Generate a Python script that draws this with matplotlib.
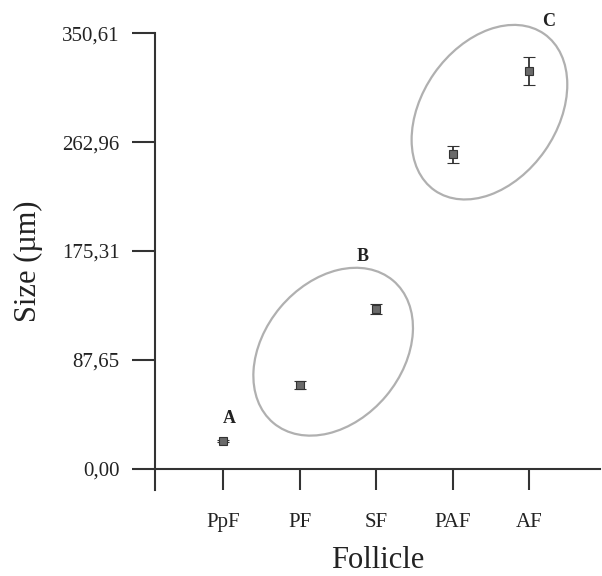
import matplotlib.pyplot as plt
import matplotlib.transforms as mtransforms
from matplotlib.patches import Ellipse

# data
follicles = ["PpF", "PF", "SF", "PAF", "AF"]
size_mean = [22.3, 67.4, 128.5, 253.0, 320.0]
size_err = [1.0, 3.5, 4.0, 6.8, 11.3]
yticks = [0.00, 87.65, 175.31, 262.96, 350.61]
ytick_labels = ["0,00", "87,65", "175,31", "262,96", "350,61"]

# group letters and the ellipses round the groups
groups = ["A", "B", "C"]
group_pos = [(1.075, 40.8), (2.817, 171.0), (5.25, 360.0)]
ring_centre = [(2.437, 94.3), (4.479, 287.0)]
ring_size = [(1.86, 1.38, 50), (1.91, 1.35, 55)]  # width, height in inches, angle

plt.rcParams["font.family"] = ["Liberation Serif", "DejaVu Serif"]
ink = "#333333"

fig = plt.figure(figsize=(6.02, 5.76), dpi=100)
ax = fig.add_axes([0.2575, 0.149, 0.74, 0.7935])

x = list(range(1, len(follicles) + 1))
ax.errorbar(x, size_mean, yerr=size_err, fmt="s", ms=6, mfc="#6a6a6a", mec=ink,
            mew=0.8, ecolor=ink, elinewidth=1.3, capsize=4, capthick=1.3, zorder=3)

for (cx, cy), (w, h, ang) in zip(ring_centre, ring_size):
    tr = fig.dpi_scale_trans + mtransforms.ScaledTranslation(cx, cy, ax.transData)
    ax.add_patch(Ellipse((0, 0), w, h, angle=ang, transform=tr, fill=False,
                         edgecolor="#b0b0b0", lw=1.6, clip_on=False))

for g, (gx, gy) in zip(groups, group_pos):
    ax.text(gx, gy, g, fontsize=13, fontweight="bold", ha="center", va="center",
            color="#222222", clip_on=False)

ax.set_xlim(1 - 68 / 76.35, 5 + 71 / 76.35)
ax.set_ylim(-17.1, 350.61)
ax.spines["top"].set_visible(False)
ax.spines["right"].set_visible(False)
ax.spines["bottom"].set_position(("data", 0))
for s in ("left", "bottom"):
    ax.spines[s].set_color(ink)
    ax.spines[s].set_linewidth(1.5)

ax.set_xticks(x)
ax.set_xticklabels(follicles)
ax.set_yticks(yticks)
ax.set_yticklabels(ytick_labels)
ax.tick_params(axis="x", direction="out", length=15, width=1.5, color=ink,
               labelsize=15, pad=17, labelcolor="#222222")
ax.tick_params(axis="y", direction="out", length=16.5, width=1.5, color=ink,
               labelsize=15, pad=9, labelcolor="#222222")

ax.set_xlabel("Follicle", fontsize=22, labelpad=10, color="#222222")
ax.set_ylabel("Size (µm)", fontsize=22, labelpad=14, color="#222222")

fig.savefig("out.png", dpi=100)
